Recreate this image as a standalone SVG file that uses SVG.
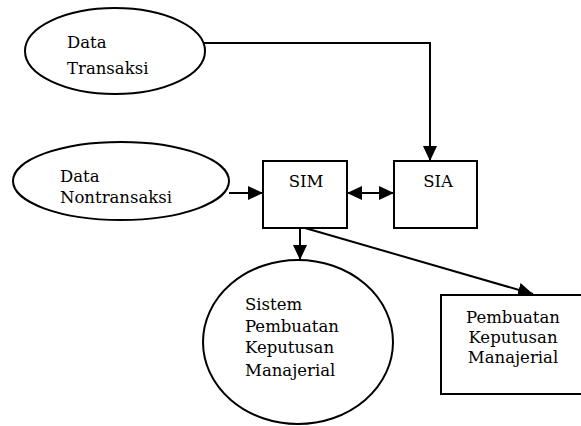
<svg xmlns="http://www.w3.org/2000/svg" width="581" height="426" viewBox="0 0 581 426">
<style>
.s{fill:#fff;stroke:#000;stroke-width:2}
.t{font-family:"DejaVu Serif","Liberation Serif",serif;font-size:16.5px;fill:#000}
.c{fill:none;stroke:#000;stroke-width:2}
</style>
<defs>
<marker id="ah" markerUnits="userSpaceOnUse" markerWidth="16" markerHeight="16" refX="15" refY="7" orient="auto-start-reverse" viewBox="0 0 16 16">
<path d="M0,0 L15,7 L0,14 z" fill="#000"/>
</marker>
</defs>
<rect width="581" height="426" fill="#fff"/>
<g id="connectors">
<path class="c" d="M204,43 H430 V161" marker-end="url(#ah)"/>
<path class="c" d="M229,193 H263" marker-end="url(#ah)"/>
<path class="c" d="M347,193 H394" marker-start="url(#ah)" marker-end="url(#ah)"/>
<path class="c" d="M300,228 V260" marker-end="url(#ah)"/>
<path class="c" d="M305,228 L533,294" marker-end="url(#ah)"/>
</g>
<g id="data-transaksi">
<ellipse class="s" cx="115" cy="51" rx="90" ry="43"/>
<text class="t" x="67" y="48">Data</text>
<text class="t" x="67" y="74">Transaksi</text>
</g>
<g id="data-nontransaksi">
<ellipse class="s" cx="121" cy="181" rx="108" ry="39"/>
<text class="t" x="60" y="182">Data</text>
<text class="t" x="60" y="203">Nontransaksi</text>
</g>
<g id="sim">
<rect class="s" x="263" y="161" width="84" height="67"/>
<text class="t" x="306" y="187" text-anchor="middle">SIM</text>
</g>
<g id="sia">
<rect class="s" x="394" y="161" width="83" height="67"/>
<text class="t" x="438" y="187" text-anchor="middle">SIA</text>
</g>
<g id="sistem-pembuatan">
<ellipse class="s" cx="298" cy="342" rx="95" ry="82"/>
<text class="t" x="245" y="310">Sistem</text>
<text class="t" x="245" y="332">Pembuatan</text>
<text class="t" x="245" y="353">Keputusan</text>
<text class="t" x="245" y="376">Manajerial</text>
</g>
<g id="pembuatan-keputusan">
<rect class="s" x="441" y="295" width="145" height="99"/>
<text class="t" x="513" y="323" text-anchor="middle">Pembuatan</text>
<text class="t" x="513" y="343" text-anchor="middle">Keputusan</text>
<text class="t" x="513" y="363" text-anchor="middle">Manajerial</text>
</g>
</svg>
